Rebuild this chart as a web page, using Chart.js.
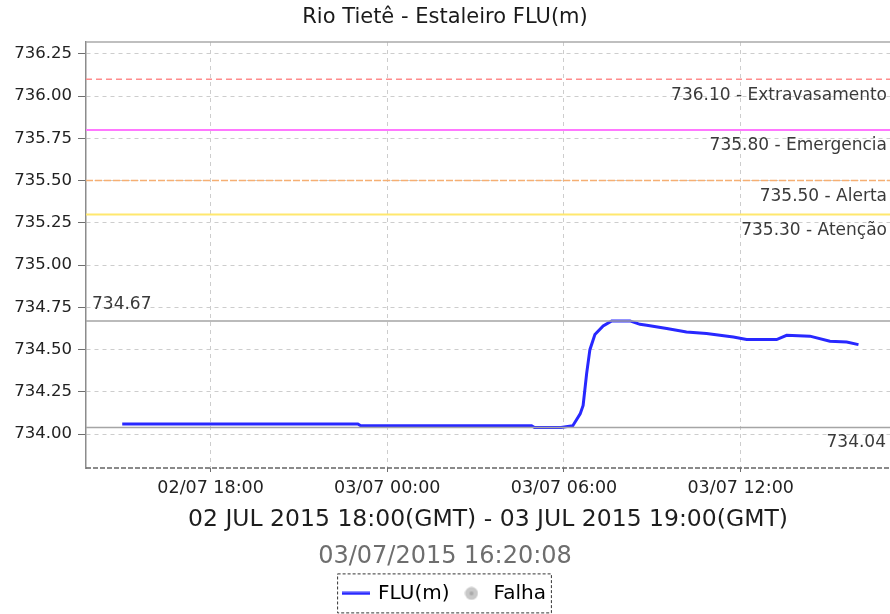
<!DOCTYPE html>
<html>
<head>
<meta charset="utf-8">
<script src="https://cdn.jsdelivr.net/npm/chart.js@4/dist/chart.umd.min.js"></script>
<style>
  html, body { margin: 0; padding: 0; background: #fff; }
  #wrap { width: 890px; height: 614px; }
</style>
</head>
<body>
<div id="wrap"><canvas id="levelChart"></canvas></div>
<script>
"use strict";

// hours counted from 02/07/2015 00:00 (GMT)
const hours = [15.0, 23.0, 23.1, 28.9, 29.0, 29.9, 30.3, 30.55, 30.65, 30.77, 30.88, 31.05,
    31.33, 31.62, 32.24, 32.58, 32.81, 33.49, 34.16, 34.84, 35.75, 36.2, 37.22, 37.56,
    38.35, 39.03, 39.6, 40.0];
const levels = [734.06, 734.06, 734.05, 734.05, 734.04, 734.04, 734.05, 734.12, 734.17, 734.36,
    734.50, 734.59, 734.64, 734.67, 734.67, 734.65, 734.645, 734.625, 734.605, 734.595,
    734.575, 734.56, 734.56, 734.585, 734.58, 734.55, 734.545, 734.53];

const thresholdValues = [736.10, 735.80, 735.50, 735.30];
const thresholdNames = ['Extravasamento', 'Emergencia', 'Alerta', 'Atenção'];

const hourTicks = [18, 24, 30, 36];
const hourLabels = ['02/07 18:00', '03/07 00:00', '03/07 06:00', '03/07 12:00'];
const levelTicks = [734.00, 734.25, 734.50, 734.75, 735.00, 735.25, 735.50, 735.75, 736.00, 736.25];

const xMin = 13.77, xMax = 41.07;
const yMin = 733.8, yMax = 736.32;

const maxLevel = Math.max(...levels);
const minLevel = Math.min(...levels);

Chart.defaults.font.family = '"DejaVu Sans", sans-serif';
Chart.defaults.color = '#333';

function flatLine(v) {
    return [{ x: xMin, y: v }, { x: xMax, y: v }];
}

// legend icons
const lineIcon = document.createElement('canvas');
lineIcon.width = 28; lineIcon.height = 4;
lineIcon.getContext('2d').fillStyle = 'rgb(40,40,255)';
lineIcon.getContext('2d').fillRect(0, 0.5, 28, 3);

const dotIcon = document.createElement('canvas');
dotIcon.width = 14; dotIcon.height = 14;
(function () {
    const c = dotIcon.getContext('2d');
    c.fillStyle = 'rgb(200,200,200)';
    c.beginPath(); c.arc(7, 7, 6.5, 0, Math.PI * 2); c.fill();
    c.fillStyle = 'rgb(170,170,170)';
    c.beginPath(); c.arc(7, 7, 2, 0, Math.PI * 2); c.fill();
})();

const extras = {
    id: 'extras',
    afterDatasetsDraw(chart) {
        const { ctx, chartArea, scales: { y } } = chart;
        ctx.save();
        // top frame + dashed bottom axis
        ctx.strokeStyle = 'rgb(170,170,170)';
        ctx.lineWidth = 1.5;
        ctx.beginPath();
        ctx.moveTo(chartArea.left, chartArea.top);
        ctx.lineTo(chartArea.right, chartArea.top);
        ctx.stroke();
        ctx.strokeStyle = 'rgb(100,100,100)';
        ctx.setLineDash([5, 2]);
        ctx.beginPath();
        ctx.moveTo(chartArea.left, chartArea.bottom);
        ctx.lineTo(chartArea.right, chartArea.bottom);
        ctx.stroke();
        ctx.setLineDash([]);

        ctx.font = '17px "DejaVu Sans"';
        ctx.fillStyle = '#3a3a3a';
        ctx.textBaseline = 'middle';
        ctx.textAlign = 'right';
        thresholdValues.forEach((v, i) => {
            ctx.fillText(v.toFixed(2) + ' - ' + thresholdNames[i], chartArea.right - 3, y.getPixelForValue(v) + 16);
        });
        ctx.fillText(minLevel.toFixed(2), chartArea.right - 4, y.getPixelForValue(minLevel) + 15);
        ctx.textAlign = 'left';
        ctx.fillText(maxLevel.toFixed(2), chartArea.left + 6, y.getPixelForValue(maxLevel) - 16);
        ctx.restore();
    },
    afterDraw(chart) {
        const lg = chart.legend;
        if (!lg || !lg.legendHitBoxes.length) return;
        const boxes = lg.legendHitBoxes;
        const left = Math.min(...boxes.map(b => b.left)) - 7;
        const right = Math.max(...boxes.map(b => b.left + b.width)) + 5;
        const ctx = chart.ctx;
        ctx.save();
        ctx.strokeStyle = '#333';
        ctx.lineWidth = 1;
        ctx.setLineDash([3, 2]);
        ctx.strokeRect(left + 0.5, lg.top + 0.5, right - left, 39);
        ctx.restore();
    }
};

const ctx = document.getElementById('levelChart').getContext('2d');

const levelChart = new Chart(ctx, {
    type: 'line',
    data: {
        datasets: [
            { data: flatLine(thresholdValues[0]), borderColor: 'rgb(255,140,140)', borderWidth: 1.5, borderDash: [6, 4], pointRadius: 0 },
            { data: flatLine(thresholdValues[1]), borderColor: 'rgb(255,120,255)', borderWidth: 2, pointRadius: 0 },
            { data: flatLine(thresholdValues[2]), borderColor: 'rgb(245,175,115)', borderWidth: 1.5, borderDash: [7, 2], pointRadius: 0 },
            { data: flatLine(thresholdValues[3]), borderColor: 'rgb(255,232,110)', borderWidth: 2, pointRadius: 0 },
            { data: flatLine(maxLevel), borderColor: 'rgb(165,165,165)', borderWidth: 1.5, pointRadius: 0 },
            { data: flatLine(minLevel), borderColor: 'rgb(165,165,165)', borderWidth: 1.5, pointRadius: 0 },
            {
                label: 'FLU(m)',
                data: hours.map((h, i) => ({ x: h, y: levels[i] })),
                borderColor: 'rgb(40,40,255)',
                borderWidth: 3,
                pointRadius: 0,
                tension: 0
            }
        ]
    },
    options: {
        responsive: true,
        maintainAspectRatio: false,
        animation: false,
        layout: { padding: { left: 0, right: 0, top: 0, bottom: 0.6 } },
        plugins: {
            tooltip: { enabled: false },
            title: {
                display: true,
                text: 'Rio Tietê - Estaleiro FLU(m)',
                color: '#1a1a1a',
                font: { size: 21, weight: 'normal' },
                padding: { top: 5, bottom: 11.8 }
            },
            subtitle: {
                display: true,
                position: 'bottom',
                weight: 500,
                text: '03/07/2015 16:20:08',
                color: '#6e6e6e',
                font: { size: 24, weight: 'normal' },
                padding: { top: 8.5, bottom: 2.1 }
            },
            legend: {
                position: 'bottom',
                onClick: null,
                labels: {
                    usePointStyle: true,
                    pointStyleWidth: 24,
                    padding: 10,
                    color: '#111',
                    font: { size: 20 },
                    generateLabels: () => [
                        { text: 'FLU(m)', pointStyle: lineIcon, fillStyle: 'rgb(40,40,255)', strokeStyle: 'rgb(40,40,255)', lineWidth: 0, datasetIndex: 6 },
                        { text: 'Falha', pointStyle: dotIcon, fillStyle: 'rgb(200,200,200)', strokeStyle: 'rgb(200,200,200)', lineWidth: 0 }
                    ]
                }
            }
        },
        scales: {
            x: {
                type: 'linear',
                min: xMin,
                max: xMax,
                afterFit: s => { s.height = 66; },
                afterBuildTicks: s => { s.ticks = hourTicks.map(v => ({ value: v })); },
                ticks: {
                    padding: 6,
                    color: '#222',
                    font: { size: 17.5 },
                    maxRotation: 0,
                    callback: v => hourLabels[hourTicks.indexOf(v)]
                },
                grid: {
                    color: 'rgb(205,205,205)',
                    lineWidth: 1,
                    tickLength: 4,
                    tickColor: 'rgb(110,110,110)',
                    tickBorderDash: []
                },
                border: { display: false, dash: [4, 4] },
                title: {
                    display: true,
                    text: '02 JUL 2015 18:00(GMT) - 03 JUL 2015 19:00(GMT)',
                    color: '#1e1e1e',
                    font: { size: 23.5 },
                    padding: { top: 0, bottom: 0 }
                }
            },
            y: {
                min: yMin,
                max: yMax,
                afterFit: s => { s.width = 86; },
                afterBuildTicks: s => { s.ticks = levelTicks.map(v => ({ value: v })); },
                ticks: {
                    padding: 6,
                    color: '#222',
                    font: { size: 16.5 },
                    callback: v => v.toFixed(2)
                },
                grid: {
                    color: 'rgb(205,205,205)',
                    lineWidth: 1,
                    tickLength: 8,
                    tickColor: 'rgb(110,110,110)',
                    tickBorderDash: []
                },
                border: { display: true, color: 'rgb(140,140,140)', width: 1.5, dash: [4, 4] }
            }
        }
    },
    plugins: [extras]
});
</script>
</body>
</html>
